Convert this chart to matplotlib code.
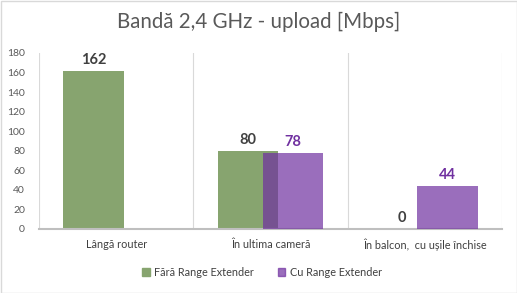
import matplotlib
matplotlib.use("Agg")
import matplotlib.pyplot as plt
import numpy as np
from matplotlib.patches import Rectangle

plt.rcParams['font.family'] = ['Lato', 'DejaVu Sans']

categories = ["Lângă router", "În ultima cameră", "În balcon,  cu ușile închise"]
series_names = ["Fără Range Extender", "Cu Range Extender"]
fara = [162, 80, 0]
cu = [None, 78, 44]
yticks = [0, 20, 40, 60, 80, 100, 120, 140, 160, 180]

green = "#87a46f"
purple_base = "#7030a0"
purple_alpha = 0.7

W, H = 517, 293
fig = plt.figure(figsize=(W/100, H/100), dpi=100)
fig.patches.append(Rectangle((0.5/W, 0.5/H), 1-1/W, 1-1/H, transform=fig.transFigure,
                             fill=False, edgecolor="#d9d9d9", linewidth=1))
ax = fig.add_axes([39/W, 64/H, (502-39)/W, (229-53)/H])

x = np.arange(len(categories))
bw = 0.39
off = 0.147
for i in range(len(categories)):
    if fara[i] is not None:
        ax.bar(x[i]-off, fara[i], bw, color=green, zorder=2)
        ax.text(x[i]-off, fara[i]+4, str(fara[i]), ha='center', va='bottom',
                fontsize=10.5, fontweight='bold', color='#404040')
    if cu[i] is not None:
        ax.bar(x[i]+off, cu[i], bw, color=purple_base, alpha=purple_alpha, zorder=3,
               linewidth=0)
        ax.text(x[i]+off, cu[i]+4, str(cu[i]), ha='center', va='bottom',
                fontsize=10.5, fontweight='bold', color='#7030a0')

ax.set_xlim(-0.5, len(categories)-0.5)
ax.set_ylim(0, 180)
ax.set_yticks(yticks)
ax.set_yticklabels([str(t) for t in yticks], fontsize=7.5, color='#595959')
ax.set_xticks(x)
ax.set_xticklabels(categories, fontsize=7.8, color='#404040')
ax.tick_params(axis='both', length=0)
ax.tick_params(axis='y', pad=10)
ax.tick_params(axis='x', pad=7)
for b in [-0.5, 0.5, 1.5, 2.5]:
    ax.axvline(b, color='#d9d9d9', linewidth=0.8, zorder=0)
for s in ['top', 'right', 'left']:
    ax.spines[s].set_visible(False)
ax.spines['bottom'].set_color('#bfbfbf')
ax.spines['bottom'].set_linewidth(1.5)
ax.set_facecolor('none')

fig.text(259/W, 1-22/H, "Bandă 2,4 GHz - upload [Mbps]", ha='center', va='center',
         fontsize=14.8, color='#595959')

handles = [Rectangle((0, 0), 1, 1, color=green),
           Rectangle((0, 0), 1, 1, color=purple_base, alpha=purple_alpha)]
fig.legend(handles, series_names, loc='center', bbox_to_anchor=(262/W, 1-272/H),
           ncol=2, frameon=False, fontsize=7.8, handlelength=0.7, handleheight=0.7,
           handletextpad=0.4, columnspacing=2.2, labelcolor='#404040')

fig.savefig("out.png", dpi=100)
